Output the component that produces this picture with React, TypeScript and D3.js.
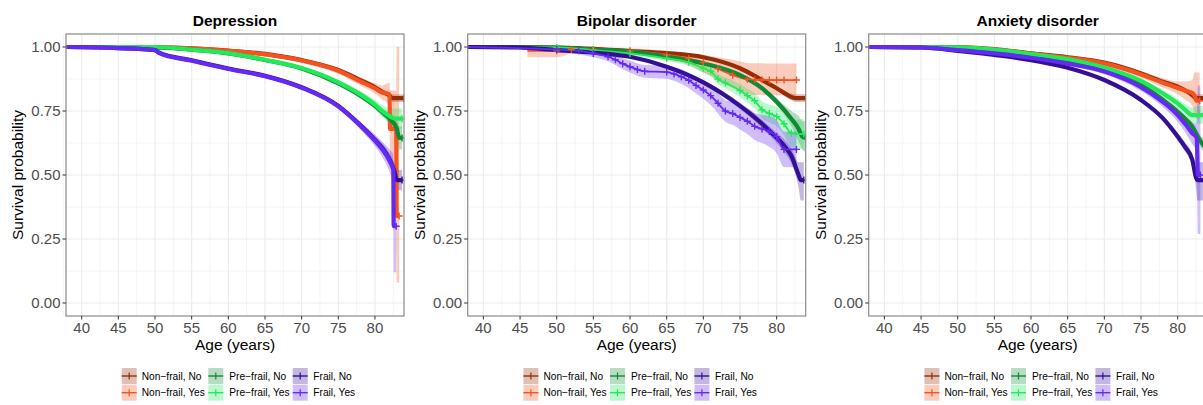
import React from "react";
import * as d3 from "d3";

// ---------- data: [age, survival, lower, upper] ----------
type Pt = [number, number, number, number];

const GROUPS = ["Non−frail, No", "Non−frail, Yes", "Pre−frail, No", "Pre−frail, Yes", "Frail, No", "Frail, Yes"];
const COLORS = ["#962d07", "#f3531f", "#108b33", "#22e85a", "#330f96", "#6429f2"];
const PANEL_TITLES = ["Depression", "Bipolar disorder", "Anxiety disorder"];
const X_TICKS = [40, 45, 50, 55, 60, 65, 70, 75, 80];
const Y_TICKS = [0, 0.25, 0.5, 0.75, 1];
const Y_TICK_LABELS = ["0.00", "0.25", "0.50", "0.75", "1.00"];

// Depression
const DEP_NF_NO: Pt[] = [[37.9,1,1,1],[45,1,0.999,1],[50,0.999,0.998,1],[55,0.995,0.993,0.997],[60,0.986,0.984,0.988],[65,0.973,0.971,0.975],[70,0.949,0.946,0.952],[75,0.91,0.906,0.914],[78,0.871,0.866,0.876],[80,0.843,0.836,0.85],[81,0.825,0.816,0.834],[82,0.81,0.8,0.82],[82.4,0.8,0.785,0.815],[83.96,0.8,0.785,0.815]];
const DEP_NF_YES: Pt[] = [[37.9,1,1,1],[50,1,0.995,1],[55,0.995,0.99,0.999],[60,0.985,0.979,0.99],[65,0.971,0.964,0.978],[70,0.947,0.938,0.956],[75,0.907,0.895,0.919],[78,0.866,0.85,0.882],[80,0.838,0.818,0.858],[81,0.822,0.795,0.85],[82,0.815,0.77,0.86],[82.05,0.68,0.55,0.83],[82.9,0.68,0.55,0.83],[82.95,0.34,0.08,1],[83.3,0.34,0.08,1]];
const DEP_PF_NO: Pt[] = [[37.9,1,1,1],[45,1,0.999,1],[50,0.998,0.997,0.999],[55,0.99,0.988,0.992],[60,0.975,0.973,0.977],[65,0.949,0.946,0.952],[70,0.916,0.912,0.92],[75,0.858,0.853,0.863],[78,0.81,0.803,0.817],[80,0.77,0.761,0.779],[81,0.745,0.733,0.757],[82,0.72,0.7,0.74],[83,0.68,0.65,0.71],[83.3,0.645,0.6,0.69],[83.7,0.645,0.6,0.69]];
const DEP_PF_YES: Pt[] = [[37.9,1,1,1],[50,1,0.997,1],[55,0.99,0.986,0.994],[60,0.976,0.971,0.981],[65,0.95,0.944,0.956],[70,0.918,0.91,0.926],[75,0.862,0.852,0.872],[78,0.815,0.801,0.829],[80,0.775,0.757,0.793],[81,0.75,0.728,0.772],[82,0.73,0.7,0.76],[82.8,0.72,0.68,0.76],[83.7,0.72,0.68,0.76]];
const DEP_FR_NO: Pt[] = [[37.9,1,1,1],[45,0.996,0.995,0.997],[50,0.988,0.986,0.99],[50.5,0.979,0.976,0.982],[55,0.948,0.945,0.951],[60,0.916,0.912,0.92],[65,0.888,0.883,0.893],[70,0.843,0.837,0.849],[75,0.77,0.762,0.778],[78,0.695,0.684,0.706],[80,0.637,0.622,0.652],[81,0.605,0.587,0.623],[82,0.56,0.535,0.585],[82.6,0.52,0.49,0.55],[83,0.48,0.44,0.52],[83.7,0.48,0.44,0.52]];
const DEP_FR_YES: Pt[] = [[37.9,1,1,1],[45,0.996,0.994,0.998],[50,0.988,0.983,0.993],[50.5,0.977,0.971,0.983],[55,0.946,0.941,0.951],[60,0.914,0.908,0.92],[65,0.886,0.879,0.893],[70,0.841,0.833,0.849],[75,0.768,0.757,0.779],[78,0.693,0.678,0.708],[80,0.635,0.612,0.658],[81,0.6,0.57,0.63],[82,0.555,0.51,0.6],[82.5,0.52,0.46,0.58],[82.55,0.3,0.12,0.55],[82.9,0.3,0.12,0.55]];

// Bipolar disorder
const BIP_NF_NO: Pt[] = [[37.9,1,1,1],[45,1,0.999,1],[50,0.998,0.997,0.999],[55,0.993,0.991,0.995],[60,0.984,0.982,0.986],[65,0.976,0.973,0.979],[70,0.96,0.957,0.963],[75,0.917,0.912,0.922],[78,0.871,0.864,0.878],[80,0.839,0.83,0.848],[82,0.805,0.792,0.818],[82.6,0.8,0.785,0.815],[83.96,0.8,0.785,0.815]];
const BIP_NF_YES: Pt[] = [[46,0.985,0.96,1],[50,0.985,0.96,1],[52,0.99,0.975,1],[55,0.99,0.98,0.998],[60,0.985,0.972,0.995],[65,0.97,0.95,0.985],[68,0.955,0.93,0.975],[70,0.94,0.9,0.97],[72,0.915,0.87,0.96],[74,0.89,0.84,0.95],[76,0.874,0.815,0.938],[77,0.872,0.813,0.937],[78,0.872,0.813,0.937],[79,0.871,0.812,0.936],[80,0.871,0.812,0.936],[81,0.871,0.812,0.936],[82.7,0.871,0.812,0.936]];
const BIP_PF_NO: Pt[] = [[37.9,1,1,1],[45,1,0.999,1],[50,0.998,0.996,1],[55,0.99,0.987,0.993],[60,0.982,0.978,0.986],[65,0.962,0.957,0.967],[70,0.936,0.93,0.942],[75,0.89,0.882,0.898],[78,0.839,0.828,0.85],[80,0.786,0.772,0.8],[82,0.72,0.69,0.75],[83,0.68,0.63,0.73],[83.5,0.65,0.6,0.71],[83.96,0.645,0.59,0.71]];
const BIP_PF_YES: Pt[] = [[37.9,1,1,1],[50,0.998,0.994,1],[55,0.988,0.982,0.994],[60,0.975,0.967,0.983],[65,0.956,0.945,0.967],[68,0.94,0.927,0.953],[70,0.917,0.9,0.934],[71,0.905,0.887,0.923],[72,0.875,0.855,0.895],[73,0.86,0.838,0.882],[75,0.83,0.805,0.855],[76,0.81,0.783,0.837],[77,0.79,0.76,0.82],[78,0.755,0.722,0.788],[79,0.74,0.705,0.775],[80,0.728,0.69,0.766],[81,0.7,0.655,0.745],[82,0.663,0.61,0.716],[83.7,0.66,0.6,0.72]];
const BIP_FR_NO: Pt[] = [[37.9,1,1,1],[45,0.998,0.997,0.999],[50,0.988,0.985,0.991],[55,0.978,0.974,0.982],[60,0.962,0.957,0.967],[65,0.923,0.916,0.93],[70,0.862,0.853,0.871],[75,0.77,0.758,0.782],[78,0.7,0.684,0.716],[80,0.645,0.625,0.665],[81,0.615,0.59,0.64],[82,0.575,0.545,0.605],[83,0.5,0.45,0.55],[83.3,0.48,0.4,0.55],[83.7,0.48,0.4,0.55]];
const BIP_FR_YES: Pt[] = [[37.9,1,1,1],[50,0.99,0.98,1],[53,0.985,0.972,0.998],[55,0.975,0.96,0.99],[57,0.962,0.944,0.98],[58,0.95,0.93,0.97],[59,0.935,0.913,0.957],[60,0.923,0.9,0.946],[61,0.912,0.888,0.936],[62,0.905,0.88,0.93],[65,0.902,0.876,0.928],[66,0.895,0.868,0.922],[67,0.884,0.855,0.913],[68,0.87,0.84,0.9],[69,0.85,0.818,0.882],[70,0.832,0.798,0.866],[71,0.81,0.773,0.847],[72,0.78,0.74,0.82],[73,0.75,0.708,0.792],[74,0.74,0.695,0.785],[75,0.725,0.678,0.772],[76,0.71,0.66,0.76],[77,0.69,0.637,0.743],[78,0.68,0.625,0.735],[79,0.67,0.61,0.73],[80,0.65,0.585,0.715],[81,0.6,0.53,0.67],[82.7,0.6,0.53,0.67]];

// Anxiety disorder
const ANX_NF_NO: Pt[] = [[37.9,1,1,1],[45,1,0.999,1],[50,0.999,0.998,1],[55,0.992,0.99,0.994],[60,0.975,0.973,0.977],[65,0.96,0.957,0.963],[70,0.939,0.935,0.943],[75,0.897,0.892,0.902],[78,0.864,0.857,0.871],[80,0.845,0.836,0.854],[82,0.8125,0.8,0.825],[82.5,0.8,0.785,0.815],[83.96,0.8,0.785,0.815]];
const ANX_NF_YES: Pt[] = [[37.9,1,1,1],[50,0.999,0.997,1],[55,0.99,0.986,0.994],[60,0.974,0.969,0.979],[65,0.958,0.951,0.965],[70,0.936,0.927,0.945],[75,0.893,0.88,0.906],[78,0.86,0.842,0.878],[80,0.84,0.815,0.865],[81,0.83,0.795,0.865],[82,0.82,0.77,0.87],[82.3,0.81,0.74,0.9],[82.6,0.79,0.72,0.9],[83,0.79,0.72,0.9]];
const ANX_PF_NO: Pt[] = [[37.9,1,1,1],[45,1,0.999,1],[50,0.998,0.997,0.999],[55,0.988,0.986,0.99],[60,0.969,0.967,0.971],[65,0.947,0.944,0.95],[70,0.91,0.906,0.914],[75,0.852,0.846,0.858],[78,0.793,0.785,0.801],[80,0.747,0.737,0.757],[81,0.72,0.708,0.732],[82,0.689,0.674,0.704],[83,0.637,0.615,0.659],[83.96,0.6,0.57,0.63]];
const ANX_PF_YES: Pt[] = [[37.9,1,1,1],[50,0.999,0.997,1],[55,0.99,0.987,0.993],[60,0.973,0.969,0.977],[65,0.953,0.948,0.958],[70,0.92,0.913,0.927],[75,0.868,0.858,0.878],[78,0.818,0.804,0.832],[80,0.78,0.762,0.798],[81,0.755,0.733,0.777],[82,0.734,0.705,0.763],[82.6,0.734,0.7,0.77],[83.96,0.734,0.7,0.77]];
const ANX_FR_NO: Pt[] = [[37.9,1,1,1],[45,0.998,0.997,0.999],[50,0.985,0.983,0.987],[55,0.969,0.966,0.972],[60,0.949,0.945,0.953],[65,0.919,0.914,0.924],[70,0.871,0.865,0.877],[75,0.793,0.785,0.801],[78,0.721,0.71,0.732],[80,0.65,0.635,0.665],[81,0.61,0.592,0.628],[82,0.559,0.535,0.583],[82.5,0.49,0.45,0.53],[82.7,0.48,0.4,0.55],[83.96,0.48,0.4,0.55]];
const ANX_FR_YES: Pt[] = [[37.9,1,1,1],[45,0.998,0.996,1],[50,0.988,0.984,0.992],[55,0.975,0.97,0.98],[60,0.958,0.952,0.964],[65,0.935,0.927,0.943],[70,0.904,0.894,0.914],[75,0.843,0.828,0.858],[78,0.785,0.765,0.805],[80,0.734,0.708,0.76],[81,0.7,0.668,0.732],[82,0.663,0.62,0.706],[82.6,0.645,0.59,0.7],[82.75,0.5,0.27,0.85],[83.1,0.5,0.27,0.85]];

const PANEL_DATA: Pt[][][] = [
  [DEP_NF_NO, DEP_NF_YES, DEP_PF_NO, DEP_PF_YES, DEP_FR_NO, DEP_FR_YES],
  [BIP_NF_NO, BIP_NF_YES, BIP_PF_NO, BIP_PF_YES, BIP_FR_NO, BIP_FR_YES],
  [ANX_NF_NO, ANX_NF_YES, ANX_PF_NO, ANX_PF_YES, ANX_FR_NO, ANX_FR_YES],
];

// ---------- layout ----------
const W = 1203;
const H = 405;
const PANEL_LEFT = [66, 467.7, 868.7];
const PLOT_W = 338;
const PLOT_TOP = 34;
const PLOT_BOTTOM = 316;
const FONT = "'Liberation Sans', Arial, Helvetica, sans-serif";

function Panel({ idx }: { idx: number }) {
  const x0 = PANEL_LEFT[idx];
  const dx = x0 - PANEL_LEFT[0];
  const x = d3.scaleLinear().domain([37.86, 83.96]).range([x0, x0 + PLOT_W]);
  const y = d3.scaleLinear().domain([-0.0508, 1.0508]).range([PLOT_BOTTOM, PLOT_TOP]);
  const line = d3.line<Pt>().x((d) => x(d[0])).y((d) => y(d[1])).curve(d3.curveMonotoneX);
  const area = d3
    .area<Pt>()
    .x((d) => x(d[0]))
    .y0((d) => y(d[2]))
    .y1((d) => y(d[3]))
    .curve(d3.curveMonotoneX);
  const series = PANEL_DATA[idx];
  const clipId = `clip${idx}`;
  const majorX = X_TICKS;
  const minorX = X_TICKS.map((t) => t - 2.5).concat([82.5]);
  const minorY = [0.125, 0.375, 0.625, 0.875];
  const sparse = (i: number) => idx === 1 && i % 2 === 1;

  const legendKeyX = [121.7, 208.3, 292.7].map((v) => v + dx);
  const legendLabelX = [141.7, 229.3, 313.3].map((v) => v + dx);
  const legendRowY = [376, 392.7];

  const cross = (px: number, py: number) => `M${px - 3.5},${py}h7M${px},${py - 3.5}v7`;

  return (
    <g>
      <defs>
        <clipPath id={clipId}>
          <rect x={x0} y={PLOT_TOP} width={PLOT_W} height={PLOT_BOTTOM - PLOT_TOP} />
        </clipPath>
      </defs>
      <rect x={x0} y={PLOT_TOP} width={PLOT_W} height={PLOT_BOTTOM - PLOT_TOP} fill="#fff" />
      {minorX.map((t) => (
        <line key={"mx" + t} x1={x(t)} x2={x(t)} y1={PLOT_TOP} y2={PLOT_BOTTOM} stroke="#ededed" strokeWidth={0.6} />
      ))}
      {minorY.map((t) => (
        <line key={"my" + t} x1={x0} x2={x0 + PLOT_W} y1={y(t)} y2={y(t)} stroke="#ededed" strokeWidth={0.6} />
      ))}
      {majorX.map((t) => (
        <line key={"Mx" + t} x1={x(t)} x2={x(t)} y1={PLOT_TOP} y2={PLOT_BOTTOM} stroke="#ebebeb" strokeWidth={1.1} />
      ))}
      {Y_TICKS.map((t) => (
        <line key={"My" + t} x1={x0} x2={x0 + PLOT_W} y1={y(t)} y2={y(t)} stroke="#ebebeb" strokeWidth={1.1} />
      ))}
      <g clipPath={`url(#${clipId})`}>
        {series.map((s, i) => (
          <path key={"r" + i} d={area(s) || ""} fill={COLORS[i]} fillOpacity={0.3} stroke="none" />
        ))}
        {series.map((s, i) => (
          <path
            key={"l" + i}
            d={line(s) || ""}
            fill="none"
            stroke={COLORS[i]}
            strokeWidth={sparse(i) ? 1.8 : 4.2}
            strokeLinejoin="round"
          />
        ))}
        {series.map((s, i) =>
          (sparse(i) ? s.slice(1) : s.slice(-1)).map((d, j) => (
            <path
              key={"c" + i + "_" + j}
              d={cross(x(d[0]), y(d[1]))}
              stroke={COLORS[i]}
              strokeWidth={1.4}
              fill="none"
            />
          ))
        )}
      </g>
      <rect x={x0} y={PLOT_TOP} width={PLOT_W} height={PLOT_BOTTOM - PLOT_TOP} fill="none" stroke="#8a8a8a" strokeWidth={1.2} />
      {/* y axis */}
      {Y_TICKS.map((t, i) => (
        <g key={"yt" + t}>
          <line x1={x0 - 3.5} x2={x0} y1={y(t)} y2={y(t)} stroke="#333" strokeWidth={1} />
          <text x={x0 - 5.5} y={y(t)} dy="0.36em" textAnchor="end" fontSize={15} fill="#4d4d4d" fontFamily={FONT}>
            {Y_TICK_LABELS[i]}
          </text>
        </g>
      ))}
      {/* x axis */}
      {X_TICKS.map((t) => (
        <g key={"xt" + t}>
          <line x1={x(t)} x2={x(t)} y1={PLOT_BOTTOM} y2={PLOT_BOTTOM + 3.5} stroke="#333" strokeWidth={1} />
          <text x={x(t)} y={333} textAnchor="middle" fontSize={15} fill="#4d4d4d" fontFamily={FONT}>
            {t}
          </text>
        </g>
      ))}
      <text x={x0 + PLOT_W / 2} y={349.5} textAnchor="middle" fontSize={15.5} fill="#000" fontFamily={FONT}>
        Age (years)
      </text>
      <text
        transform={`translate(${x0 - 43},${(PLOT_TOP + PLOT_BOTTOM) / 2}) rotate(-90)`}
        textAnchor="middle"
        fontSize={15.5}
        fill="#000"
        fontFamily={FONT}
      >
        Survival probability
      </text>
      <text x={x0 + PLOT_W / 2} y={26} textAnchor="middle" fontSize={15.5} fontWeight="bold" fill="#000" fontFamily={FONT}>
        {PANEL_TITLES[idx]}
      </text>
      {/* legend */}
      {GROUPS.map((g, i) => {
        const col = Math.floor(i / 2);
        const row = i % 2;
        const kx = legendKeyX[col];
        const cy = legendRowY[row];
        return (
          <g key={"lg" + i}>
            <rect x={kx} y={cy - 8} width={15} height={16} fill={COLORS[i]} fillOpacity={0.3} />
            <line x1={kx} x2={kx + 15} y1={cy} y2={cy} stroke={COLORS[i]} strokeWidth={1.4} />
            <line x1={kx + 7.5} x2={kx + 7.5} y1={cy - 3.5} y2={cy + 3.5} stroke={COLORS[i]} strokeWidth={1.2} />
            <text x={legendLabelX[col]} y={cy} dy="0.36em" fontSize={10.2} fill="#000" fontFamily={FONT}>
              {g}
            </text>
          </g>
        );
      })}
    </g>
  );
}

export default function App() {
  return (
    <svg
      width={W}
      height={H}
      viewBox={`0 0 ${W} ${H}`}
      style={{ position: "absolute", left: 0, top: 0, background: "#fff", display: "block" }}
    >
      <rect x={0} y={0} width={W} height={H} fill="#fff" />
      {[0, 1, 2].map((i) => (
        <Panel key={i} idx={i} />
      ))}
    </svg>
  );
}
